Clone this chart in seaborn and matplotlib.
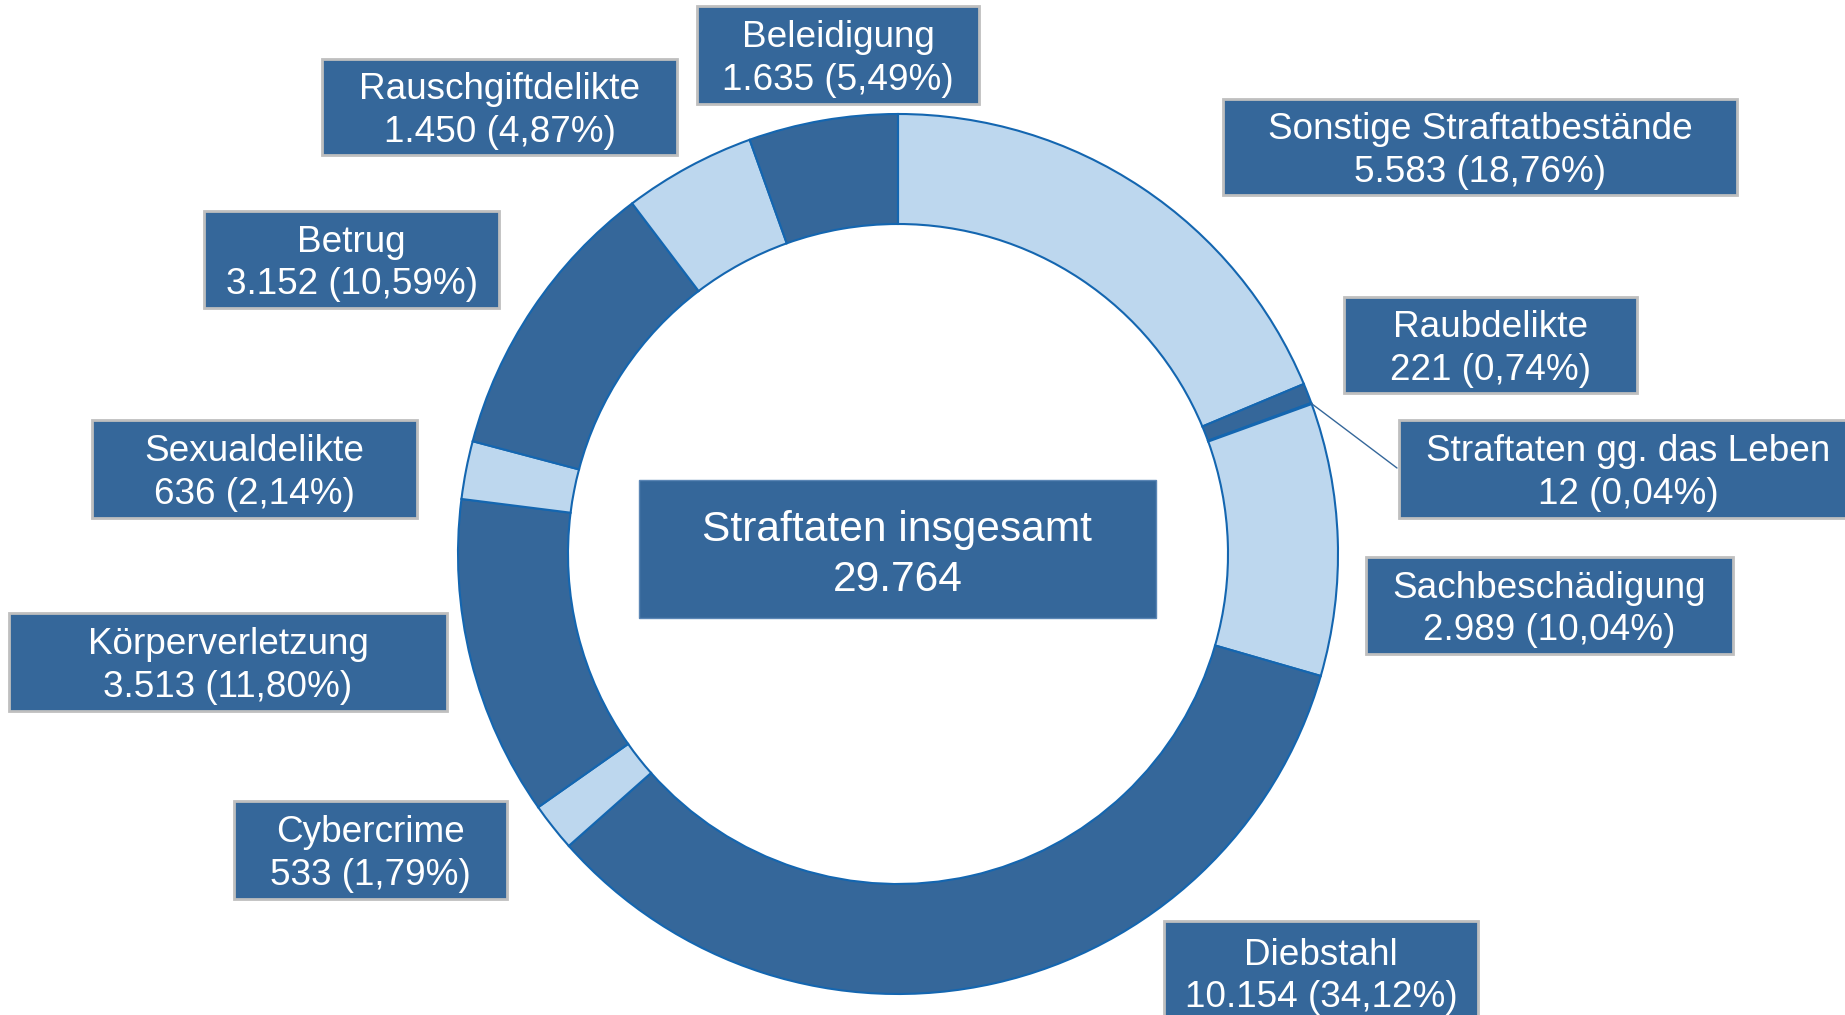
import numpy as np
import matplotlib.pyplot as plt
import seaborn as sns
from matplotlib.patches import Rectangle

# Straftaten nach Deliktsgruppen (clockwise from 12 o'clock)
categories = ["Sonstige Straftatbestände", "Raubdelikte", "Straftaten gg. das Leben",
              "Sachbeschädigung", "Diebstahl", "Cybercrime", "Körperverletzung",
              "Sexualdelikte", "Betrug", "Rauschgiftdelikte", "Beleidigung"]
counts = [5583, 221, 12, 2989, 10154, 533, 3513, 636, 3152, 1450, 1635]
total = 29764
center_title = "Straftaten insgesamt"

DARK = "#35679A"
LIGHT = "#BDD7EE"
EDGE = "#1466B0"
wedge_colors = [LIGHT, DARK, DARK, LIGHT, DARK, LIGHT, DARK, LIGHT, DARK, LIGHT, DARK]

# label boxes in image pixels: x0, y0, x1, y1
W, H = 1845, 1015
boxes = {
    "Sonstige Straftatbestände": (1223, 99, 1737, 195),
    "Raubdelikte": (1344, 297, 1637, 393),
    "Straftaten gg. das Leben": (1399, 420, 1857, 518),
    "Sachbeschädigung": (1366, 557, 1733, 654),
    "Diebstahl": (1164, 921, 1478, 1024),
    "Cybercrime": (234, 801, 507, 899),
    "Körperverletzung": (9, 613, 447, 711),
    "Sexualdelikte": (92, 420, 417, 518),
    "Betrug": (204, 211, 499, 308),
    "Rauschgiftdelikte": (322, 59, 677, 155),
    "Beleidigung": (697, 6, 979, 104),
}
center_box = (639, 480, 1156, 618)
cx, cy, R = 898, H - 554, 440


def de_num(n):
    return f"{n:,}".replace(",", ".")


def de_pct(p):
    return f"{p:.2f}".replace(".", ",") + "%"


sns.set_theme(style="white")
plt.rcParams['font.family'] = ['Liberation Sans', 'DejaVu Sans']

fig = plt.figure(figsize=(W / 100, H / 100), dpi=100)
ax = fig.add_axes([0, 0, 1, 1])

ax.pie(counts, colors=wedge_colors, startangle=90, counterclock=False,
       center=(cx, cy), radius=R,
       wedgeprops=dict(width=110, edgecolor=EDGE, linewidth=1.5))

ax.set_xlim(0, W)
ax.set_ylim(0, H)
ax.set_aspect('equal')
ax.axis('off')

# label boxes
for name, n in zip(categories, counts):
    x0, y0, x1, y1 = boxes[name]
    ax.add_patch(Rectangle((x0, H - y1), x1 - x0, y1 - y0, facecolor=DARK,
                           edgecolor="#BFBFBF", linewidth=2, zorder=3))
    ax.text((x0 + x1) / 2, H - (y0 + y1) / 2 - 4,
            f"{name}\n{de_num(n)} ({de_pct(n / total * 100)})",
            ha="center", va="center", color="white", fontsize=26.6, linespacing=1.28, zorder=4)

# leader line for the tiny slice
idx = categories.index("Straftaten gg. das Leben")
frac = (sum(counts[:idx]) + counts[idx] / 2) / sum(counts)
ang = np.deg2rad(90 - 360 * frac)
bx0, by0, bx1, by1 = boxes["Straftaten gg. das Leben"]
ax.plot([cx + R * np.cos(ang), bx0 - 2], [cy + R * np.sin(ang), H - (by0 + 48)],
        color=DARK, linewidth=1, zorder=2)

# centre box
x0, y0, x1, y1 = center_box
ax.add_patch(Rectangle((x0, H - y1), x1 - x0, y1 - y0, facecolor=DARK,
                       edgecolor="#5B86B5", linewidth=1, zorder=3))
ax.text((x0 + x1) / 2, H - (y0 + y1) / 2 - 6, f"{center_title}\n{de_num(total)}",
        ha="center", va="center", color="white", fontsize=30.6, linespacing=1.32, zorder=4)

fig.savefig("out.png", dpi=100, facecolor="white")
